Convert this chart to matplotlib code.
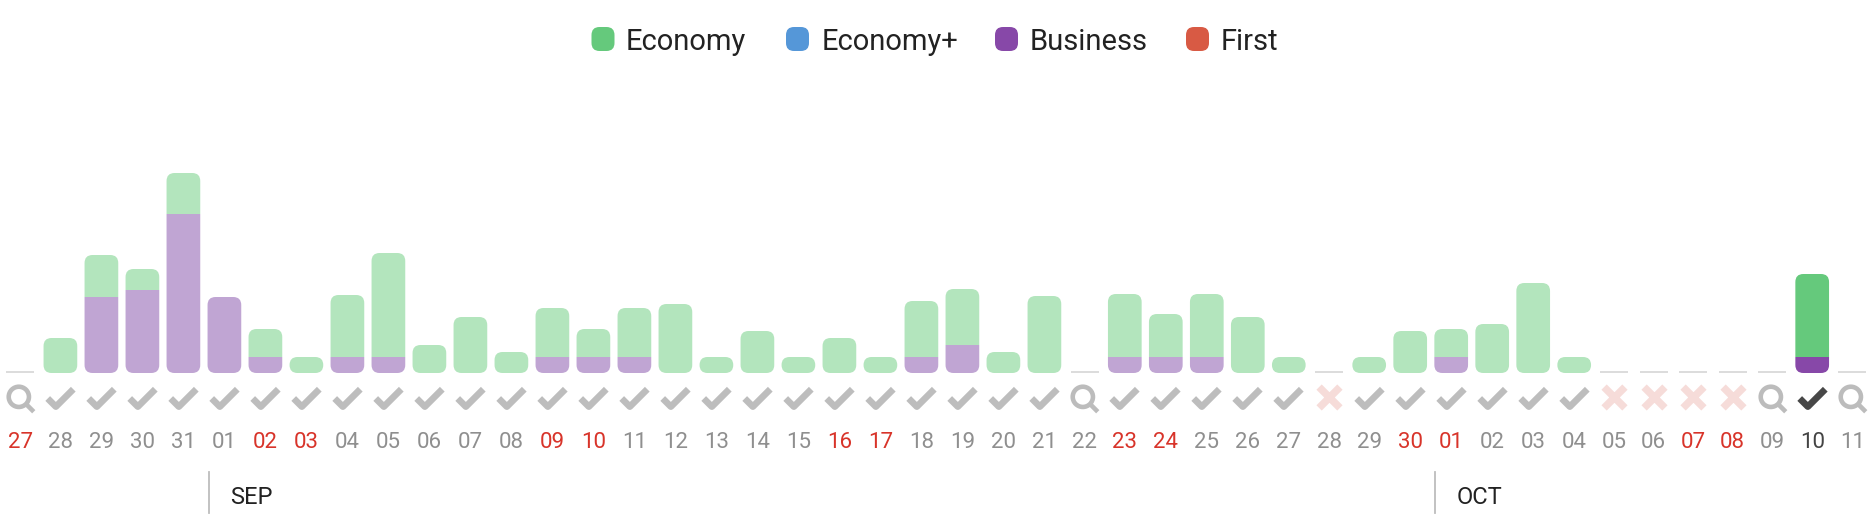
import numpy as np
import matplotlib
matplotlib.use("Agg")
import matplotlib.pyplot as plt
from matplotlib.patches import FancyBboxPatch, PathPatch
from matplotlib.path import Path
from matplotlib.transforms import Affine2D

plt.rcParams["font.family"] = ["Roboto", "DejaVu Sans"]

# one entry per day, 27 aug -> 11 oct
day_labels = ["27", "28", "29", "30", "31",
              "01", "02", "03", "04", "05", "06", "07", "08", "09", "10",
              "11", "12", "13", "14", "15", "16", "17", "18", "19", "20",
              "21", "22", "23", "24", "25", "26", "27", "28", "29", "30",
              "01", "02", "03", "04", "05", "06", "07", "08", "09", "10", "11"]
business = [0, 0, 76, 83, 159,
            76, 16, 0, 16, 16, 0, 0, 0, 16, 16,
            16, 0, 0, 0, 0, 0, 0, 16, 28, 0,
            0, 0, 16, 16, 16, 0, 0, 0, 0, 0,
            16, 0, 0, 0, 0, 0, 0, 0, 0, 16, 0]
economy = [0, 35, 42, 21, 41,
           0, 28, 16, 62, 104, 28, 56, 21, 49, 28,
           49, 69, 16, 42, 16, 35, 16, 56, 56, 21,
           77, 0, 63, 43, 63, 56, 16, 0, 16, 42,
           28, 49, 90, 16, 0, 0, 0, 0, 0, 83, 0]
# c = check, s = search, x = cross, a = active check
status = list("scccc" "cccccccccc" "cccccccccc" "cscccccxcc" "ccccxxxxsas")
red_days = [0, 6, 7, 13, 14, 20, 21, 27, 28, 34, 35, 41, 42]
active_day = 44

legend_names = ["Economy", "Economy+", "Business", "First"]
legend_colors = ["#65c97c", "#5597d8", "#8748a8", "#d85a44"]
months = ["SEP", "OCT"]

ECO_LIGHT = "#b3e5bd"
BIZ_LIGHT = "#c0a5d3"
W, H = 1873, 518
BASE = 373
BAR_W = 33.7
RADIUS = 8

# empty days take a bit less room than days with a bar
totals = np.array(business) + np.array(economy)
slot = np.where(totals == 0, 39.4, 41.0)
centers = np.cumsum(slot) - slot / 2 + 0.5

check_path = Path([(-11, 0), (-4, -7), (11, 8)])
cross_path = Path([(-9, 9), (9, -9), (-9, -9), (9, 9)],
                  [Path.MOVETO, Path.LINETO, Path.MOVETO, Path.LINETO])
ring = Path.unit_circle().transformed(Affine2D().scale(9.5).translate(-2.5, 2.5))
search_path = Path.make_compound_path(ring, Path([(4.5, -4.5), (11.5, -11.5)]))


def segment(x, y0, y1, round_bottom, round_top):
    # one piece of a stacked bar, only the outer ends get round corners
    l, r = x - BAR_W / 2, x + BAR_W / 2
    rb = RADIUS if round_bottom else 0
    rt = RADIUS if round_top else 0
    verts = [(l + rb, y0), (r - rb, y0), (r, y0), (r, y0 + rb),
             (r, y1 - rt), (r, y1), (r - rt, y1),
             (l + rt, y1), (l, y1), (l, y1 - rt),
             (l, y0 + rb), (l, y0), (l + rb, y0), (l + rb, y0)]
    codes = [Path.MOVETO, Path.LINETO, Path.CURVE3, Path.CURVE3,
             Path.LINETO, Path.CURVE3, Path.CURVE3,
             Path.LINETO, Path.CURVE3, Path.CURVE3,
             Path.LINETO, Path.CURVE3, Path.CURVE3, Path.CLOSEPOLY]
    return Path(verts, codes)


fig = plt.figure(figsize=(W / 100, H / 100), dpi=100)
ax = fig.add_axes([0, 0, 1, 1])
ax.set_xlim(0, W)
ax.set_ylim(BASE - H, BASE)
ax.axis("off")

# stacked bars
for i, x in enumerate(centers):
    b, e = business[i], economy[i]
    if b + e == 0:
        ax.plot([x - 14, x + 14], [1, 1], color="#dcdcdc", lw=1.4, solid_capstyle="butt")
        continue
    today = i == active_day
    if b > 0:
        ax.add_patch(PathPatch(segment(x, 0, b, True, e == 0),
                               fc="#8748a8" if today else BIZ_LIGHT, lw=0))
    if e > 0:
        ax.add_patch(PathPatch(segment(x, b, b + e, b == 0, True),
                               fc="#65c97c" if today else ECO_LIGHT, lw=0))

# status icons
for i, s in enumerate(status):
    x = centers[i]
    if s == "s":
        ax.plot(x + 0.5, -26, marker=search_path, ms=18.4, mfc="none", mec="#bcbcbc", mew=3.3)
    elif s == "x":
        ax.plot(x, -24, marker=cross_path, ms=15, mfc="none", mec="#f6dcd9", mew=5.4)
    else:
        col = "#474747" if s == "a" else "#bdbdbd"
        ax.plot(x - 0.5, -25, marker=check_path, ms=18.4, mfc="none", mec=col, mew=4.8)

# day labels
for i, lab in enumerate(day_labels):
    col = "#8f8f8f"
    if i in red_days:
        col = "#d8342a"
    elif i == active_day:
        col = "#444444"
    ax.text(centers[i], -70, lab, ha="center", va="center", fontsize=16, color=col)

# month separators
for name, line_px, text_px in zip(months, [209, 1435], [230, 1457]):
    ax.plot([line_px, line_px], [BASE - 472, BASE - 513], color="#bdbdbd", lw=1.3)
    ax.text(text_px, BASE - 497, name, ha="left", va="center", fontsize=17, color="#222222")

# legend
swatch_px = [591.5, 786, 995, 1186]
label_px = [626, 822, 1030, 1221]
for name, col, sx, tx in zip(legend_names, legend_colors, swatch_px, label_px):
    ax.add_patch(FancyBboxPatch((sx, BASE - 51), 23, 24,
                                boxstyle=f"round,pad=0,rounding_size={RADIUS}",
                                fc=col, lw=0))
    ax.text(tx, BASE - 42, name, ha="left", va="center", fontsize=21, color="#222222")

fig.savefig("out.png", dpi=100)
